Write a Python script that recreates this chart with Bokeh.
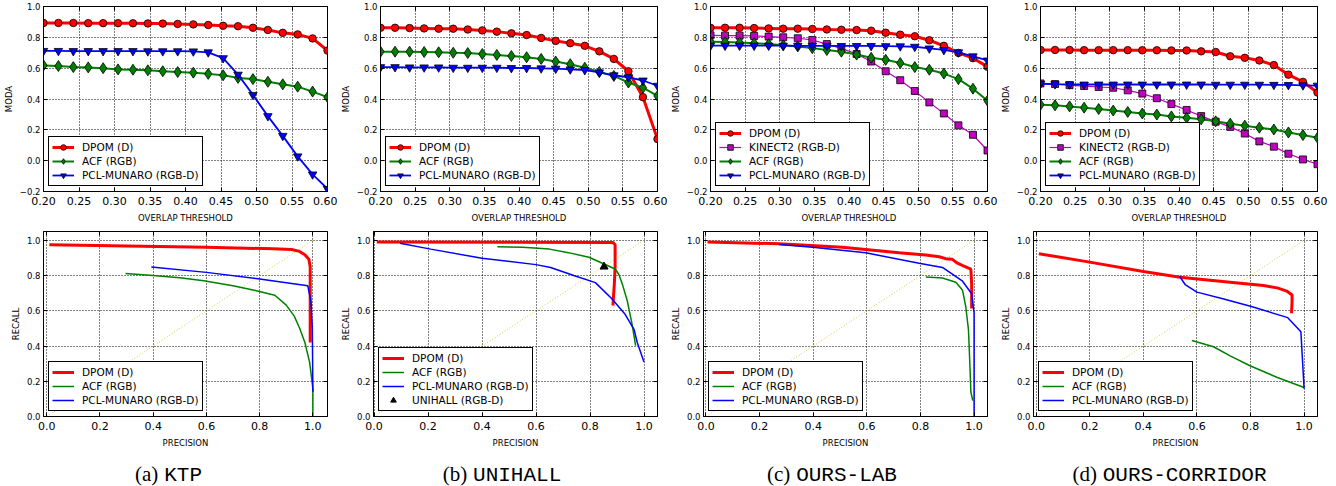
from bokeh.plotting import figure
from bokeh.models import Range1d, FixedTicker, CustomJSTickFormatter, Div, LinearAxis
from bokeh.layouts import column, row
from bokeh.embed import file_html
from bokeh.resources import INLINE

# ---------------- data ----------------
THRESH = [0.200, 0.221, 0.242, 0.263, 0.284, 0.305, 0.326, 0.347, 0.368, 0.389,
          0.411, 0.432, 0.453, 0.474, 0.495, 0.516, 0.537, 0.558, 0.579, 0.600]

KTP_DPOM = [0.893, 0.893, 0.893, 0.892, 0.892, 0.892, 0.891, 0.890, 0.889, 0.887,
            0.884, 0.880, 0.875, 0.872, 0.862, 0.848, 0.829, 0.819, 0.793, 0.714]
KTP_ACF = [0.618, 0.614, 0.607, 0.605, 0.600, 0.592, 0.590, 0.586, 0.580, 0.575,
           0.571, 0.563, 0.554, 0.537, 0.529, 0.512, 0.495, 0.480, 0.448, 0.412]
KTP_PCL = [0.712, 0.712, 0.711, 0.711, 0.711, 0.711, 0.711, 0.710, 0.710, 0.710,
           0.709, 0.703, 0.665, 0.558, 0.427, 0.289, 0.161, 0.028, -0.089, -0.183]

UNI_DPOM = [0.862, 0.862, 0.860, 0.858, 0.856, 0.856, 0.851, 0.845, 0.837, 0.826,
            0.815, 0.796, 0.777, 0.762, 0.745, 0.709, 0.660, 0.580, 0.412, 0.140]
UNI_ACF = [0.707, 0.707, 0.707, 0.705, 0.703, 0.700, 0.698, 0.692, 0.686, 0.679,
           0.671, 0.660, 0.643, 0.626, 0.603, 0.575, 0.550, 0.507, 0.473, 0.420]
UNI_PCL = [0.607, 0.607, 0.605, 0.605, 0.605, 0.603, 0.603, 0.603, 0.603, 0.601,
           0.601, 0.599, 0.597, 0.592, 0.588, 0.573, 0.554, 0.541, 0.520, 0.486]

LAB_DPOM = [0.862, 0.862, 0.862, 0.860, 0.858, 0.856, 0.856, 0.854, 0.851, 0.849,
            0.847, 0.843, 0.830, 0.817, 0.807, 0.781, 0.745, 0.699, 0.665, 0.609]
LAB_KIN = [0.813, 0.811, 0.811, 0.809, 0.805, 0.800, 0.794, 0.783, 0.756, 0.728,
           0.692, 0.643, 0.580, 0.522, 0.452, 0.378, 0.306, 0.229, 0.168, 0.066]
LAB_ACF = [0.771, 0.769, 0.766, 0.762, 0.756, 0.749, 0.741, 0.730, 0.718, 0.707,
           0.688, 0.667, 0.654, 0.633, 0.607, 0.590, 0.565, 0.529, 0.467, 0.389]
LAB_PCL = [0.746, 0.746, 0.746, 0.746, 0.746, 0.746, 0.745, 0.745, 0.745, 0.744,
           0.744, 0.744, 0.743, 0.742, 0.739, 0.728, 0.718, 0.703, 0.677, 0.650]

COR_DPOM = [0.718, 0.718, 0.718, 0.717, 0.717, 0.717, 0.717, 0.716, 0.716, 0.715,
            0.715, 0.709, 0.705, 0.677, 0.667, 0.650, 0.620, 0.558, 0.511, 0.442]
COR_KIN = [0.501, 0.497, 0.490, 0.484, 0.478, 0.473, 0.456, 0.435, 0.405, 0.367,
           0.329, 0.289, 0.253, 0.219, 0.176, 0.125, 0.091, 0.045, 0.008, -0.023]
COR_ACF = [0.363, 0.359, 0.352, 0.344, 0.335, 0.325, 0.316, 0.306, 0.299, 0.287,
           0.278, 0.268, 0.255, 0.240, 0.227, 0.214, 0.202, 0.183, 0.166, 0.149]
COR_PCL = [0.499, 0.496, 0.495, 0.494, 0.494, 0.494, 0.494, 0.494, 0.494, 0.494,
           0.494, 0.494, 0.493, 0.493, 0.493, 0.493, 0.492, 0.491, 0.489, 0.487]

# precision / recall curves
KTP_DPOM_P = [0.01, 0.30, 0.60, 0.85, 0.92, 0.95, 0.97, 0.985, 0.99, 0.99, 0.99]
KTP_DPOM_R = [0.975, 0.968, 0.960, 0.952, 0.948, 0.937, 0.918, 0.893, 0.85, 0.60, 0.42]
KTP_ACF_P = [0.296, 0.40, 0.50, 0.59, 0.70, 0.78, 0.857, 0.90, 0.93, 0.95, 0.97, 0.988, 1.0, 1.0]
KTP_ACF_R = [0.812, 0.800, 0.787, 0.771, 0.742, 0.716, 0.688, 0.632, 0.570, 0.502, 0.420, 0.307, 0.158, 0.0]
KTP_PCL_P = [0.393, 0.60, 0.80, 0.981, 0.993, 0.998, 1.0]
KTP_PCL_R = [0.849, 0.818, 0.781, 0.742, 0.650, 0.500, 0.140]

UNI_DPOM_P = [0.01, 0.50, 0.885, 0.893, 0.893, 0.890, 0.887, 0.885]
UNI_DPOM_R = [0.990, 0.989, 0.988, 0.975, 0.850, 0.750, 0.680, 0.630]
UNI_ACF_P = [0.457, 0.55, 0.65, 0.72, 0.796, 0.846, 0.893, 0.907, 0.92, 0.938, 0.955, 0.969]
UNI_ACF_R = [0.963, 0.960, 0.950, 0.930, 0.904, 0.870, 0.837, 0.806, 0.750, 0.657, 0.530, 0.402]
UNI_PCL_P = [0.096, 0.21, 0.40, 0.60, 0.654, 0.74, 0.82, 0.88, 0.93, 0.963, 0.975, 1.0]
UNI_PCL_R = [0.983, 0.950, 0.898, 0.862, 0.846, 0.800, 0.760, 0.670, 0.580, 0.495, 0.420, 0.309]
UNI_UNIHALL_P = [0.852]
UNI_UNIHALL_R = [0.850]

LAB_DPOM_P = [0.006, 0.273, 0.509, 0.72, 0.82, 0.87, 0.894, 0.919, 0.938, 0.96, 0.988, 0.991, 0.991]
LAB_DPOM_R = [0.991, 0.980, 0.961, 0.929, 0.916, 0.907, 0.896, 0.892, 0.870, 0.855, 0.836, 0.750, 0.613]
LAB_ACF_P = [0.82, 0.882, 0.932, 0.957, 0.969, 0.979, 0.984, 0.988, 0.995]
LAB_ACF_R = [0.792, 0.786, 0.762, 0.716, 0.623, 0.493, 0.307, 0.139, 0.090]
LAB_PCL_P = [0.273, 0.398, 0.596, 0.795, 0.882, 0.957, 0.991, 1.0, 1.0]
LAB_PCL_R = [0.976, 0.961, 0.929, 0.870, 0.846, 0.768, 0.697, 0.585, 0.0]

COR_DPOM_P = [0.01, 0.189, 0.40, 0.537, 0.724, 0.848, 0.90, 0.935, 0.955, 0.955, 0.953]
COR_DPOM_R = [0.924, 0.879, 0.823, 0.790, 0.762, 0.743, 0.730, 0.712, 0.690, 0.650, 0.586]
COR_ACF_P = [0.581, 0.662, 0.724, 0.798, 0.898, 1.0]
COR_ACF_R = [0.431, 0.396, 0.344, 0.288, 0.223, 0.165]
COR_PCL_P = [0.535, 0.556, 0.60, 0.70, 0.80, 0.939, 0.988, 1.0]
COR_PCL_R = [0.796, 0.749, 0.706, 0.667, 0.626, 0.561, 0.481, 0.158]

DIAG = [0.0, 1.0]

TOP_X_TICKS = [0.20, 0.25, 0.30, 0.35, 0.40, 0.45, 0.50, 0.55, 0.60]
TOP_Y_TICKS = [-0.2, 0.0, 0.2, 0.4, 0.6, 0.8, 1.0]
PR_TICKS = [0.0, 0.2, 0.4, 0.6, 0.8, 1.0]

LETTERS = ["(a)", "(b)", "(c)", "(d)"]
DATASETS = ["KTP", "UNIHALL", "OURS-LAB", "OURS-CORRIDOR"]

# ---------------- styles / layout ----------------
STY = {
    "DPOM (D)": dict(color="#ff0000", marker="circle", lw=3, size=7.5),
    "KINECT2 (RGB-D)": dict(color="#bf00bf", marker="square", lw=1.2, size=7),
    "ACF (RGB)": dict(color="#008000", marker="diamond", lw=2, size=11),
    "PCL-MUNARO (RGB-D)": dict(color="#0000ff", marker="inverted_triangle", lw=1.8, size=8.5),
}
FONT = "DejaVu Sans"
FRAME_W = 284
FRAME_H = 189
LEFT_BORDERS = [43, 36, 36, 36]
RIGHT_BORDER = 10
TOP_BORDER = 6
BOTTOM_BORDER = 30
CAP_PAD = [0, 0, 0, 15]

blank = CustomJSTickFormatter(code="return ''")
minus_fmt = CustomJSTickFormatter(code="return tick < -1e-9 ? '\\u2212' + Math.abs(tick).toFixed(1) : Math.abs(tick).toFixed(1);")
fmt2 = CustomJSTickFormatter(code="return tick.toFixed(2);")
fmt1 = CustomJSTickFormatter(code="return tick.toFixed(1);")


def new_fig(i, xr, yr, xl, yl):
    lb = LEFT_BORDERS[i]
    return figure(width=lb + FRAME_W + RIGHT_BORDER, height=TOP_BORDER + FRAME_H + BOTTOM_BORDER,
                  min_border_left=lb, min_border_right=RIGHT_BORDER,
                  min_border_top=TOP_BORDER, min_border_bottom=BOTTOM_BORDER,
                  x_range=Range1d(*xr), y_range=Range1d(*yr),
                  x_axis_label=xl, y_axis_label=yl,
                  output_backend="svg", toolbar_location=None)


def style(p, xt, yt, xfmt, yfmt):
    p.xaxis.ticker = FixedTicker(ticks=xt)
    p.yaxis.ticker = FixedTicker(ticks=yt)
    p.xaxis.formatter = xfmt
    p.yaxis.formatter = yfmt
    p.outline_line_color = "black"
    p.outline_line_alpha = 1
    p.outline_line_width = 1
    p.add_layout(LinearAxis(ticker=FixedTicker(ticks=xt), formatter=blank,
                            major_label_text_font_size="0px", major_label_standoff=0,
                            axis_line_color=None, major_tick_in=4, major_tick_out=0,
                            minor_tick_line_color=None), "above")
    p.add_layout(LinearAxis(ticker=FixedTicker(ticks=yt), formatter=blank,
                            major_label_text_font_size="0px", major_label_standoff=0,
                            axis_line_color=None, major_tick_in=4, major_tick_out=0,
                            minor_tick_line_color=None), "right")
    for ax in p.axis:
        ax.major_tick_in = 4
        ax.major_tick_out = 0
        ax.minor_tick_line_color = None
        ax.major_label_text_font = FONT
        ax.major_label_text_color = "black"
        ax.axis_label_text_font = FONT
        ax.axis_label_text_font_size = "8.5px"
        ax.axis_label_text_font_style = "normal"
        ax.axis_label_text_color = "black"
    for ax in (p.xaxis[0], p.yaxis[0]):
        ax.major_label_text_font_size = "8.5px"
        ax.major_label_standoff = 3
        ax.axis_line_color = "black"
    p.xaxis[0].axis_label_standoff = 4
    p.yaxis[0].axis_label_standoff = 3
    p.xgrid.ticker = FixedTicker(ticks=xt)
    p.ygrid.ticker = FixedTicker(ticks=yt)
    p.grid.grid_line_color = "black"
    p.grid.grid_line_alpha = 1
    p.grid.grid_line_dash = "1 2"
    p.grid.grid_line_width = 1


def legend_style(p):
    lg = p.legend[0]
    lg.location = "bottom_left"
    lg.margin = 5
    lg.padding = 3
    lg.spacing = 0
    lg.label_height = 14
    lg.glyph_height = 14
    lg.glyph_width = 22
    lg.label_standoff = 8
    lg.label_text_font = FONT
    lg.label_text_font_size = "10.5px"
    lg.label_text_color = "black"
    lg.border_line_color = "black"
    lg.border_line_width = 1
    lg.border_line_alpha = 1
    lg.background_fill_alpha = 1


def top_fig(i, series):
    p = new_fig(i, (0.2, 0.6), (-0.2, 1.0), "OVERLAP THRESHOLD", "MODA")
    style(p, TOP_X_TICKS, TOP_Y_TICKS, fmt2, minus_fmt)
    for name, vals in series:
        s = STY[name]
        p.line(THRESH, vals, line_color=s["color"], line_width=s["lw"], legend_label=name)
        p.scatter(THRESH, vals, marker=s["marker"], size=s["size"],
                  fill_color=s["color"], line_color="black",
                  line_width=0.8, legend_label=name)
    legend_style(p)
    return p


def pr_fig(i, series, xr, extra=None):
    p = new_fig(i, xr, (0.0, 1.05), "PRECISION", "RECALL")
    style(p, PR_TICKS, PR_TICKS, fmt1, fmt1)
    p.line(DIAG, DIAG, line_color="#c4c400", line_width=1, line_dash="1 2", line_alpha=0.8)
    for name, px, ry in series:
        s = STY[name]
        lw = 3 if name.startswith("DPOM") else 1.5
        p.line(px, ry, line_color=s["color"], line_width=lw, legend_label=name)
    if extra is not None:
        name, px, ry = extra
        p.scatter(px, ry, marker="triangle", size=8, fill_color="black", line_color="black",
                  legend_label=name)
    legend_style(p)
    return p


tops = [
    top_fig(0, [("DPOM (D)", KTP_DPOM), ("ACF (RGB)", KTP_ACF), ("PCL-MUNARO (RGB-D)", KTP_PCL)]),
    top_fig(1, [("DPOM (D)", UNI_DPOM), ("ACF (RGB)", UNI_ACF), ("PCL-MUNARO (RGB-D)", UNI_PCL)]),
    top_fig(2, [("DPOM (D)", LAB_DPOM), ("KINECT2 (RGB-D)", LAB_KIN), ("ACF (RGB)", LAB_ACF),
                ("PCL-MUNARO (RGB-D)", LAB_PCL)]),
    top_fig(3, [("DPOM (D)", COR_DPOM), ("KINECT2 (RGB-D)", COR_KIN), ("ACF (RGB)", COR_ACF),
                ("PCL-MUNARO (RGB-D)", COR_PCL)]),
]

bottoms = [
    pr_fig(0, [("DPOM (D)", KTP_DPOM_P, KTP_DPOM_R), ("ACF (RGB)", KTP_ACF_P, KTP_ACF_R),
               ("PCL-MUNARO (RGB-D)", KTP_PCL_P, KTP_PCL_R)], (-0.012, 1.055)),
    pr_fig(1, [("DPOM (D)", UNI_DPOM_P, UNI_DPOM_R), ("ACF (RGB)", UNI_ACF_P, UNI_ACF_R),
               ("PCL-MUNARO (RGB-D)", UNI_PCL_P, UNI_PCL_R)], (-0.002, 1.05),
           extra=("UNIHALL (RGB-D)", UNI_UNIHALL_P, UNI_UNIHALL_R)),
    pr_fig(2, [("DPOM (D)", LAB_DPOM_P, LAB_DPOM_R), ("ACF (RGB)", LAB_ACF_P, LAB_ACF_R),
               ("PCL-MUNARO (RGB-D)", LAB_PCL_P, LAB_PCL_R)], (-0.009, 1.05)),
    pr_fig(3, [("DPOM (D)", COR_DPOM_P, COR_DPOM_R), ("ACF (RGB)", COR_ACF_P, COR_ACF_R),
               ("PCL-MUNARO (RGB-D)", COR_PCL_P, COR_PCL_R)], (-0.01, 1.05)),
]

caps = []
for i, (letter, name) in enumerate(zip(LETTERS, DATASETS)):
    w = LEFT_BORDERS[i] + FRAME_W + RIGHT_BORDER
    html = ('<div style="width:%dpx;padding-left:%dpx;box-sizing:border-box;text-align:center;'
            'padding-top:13px;line-height:22px;font-size:21px;color:black;white-space:nowrap">'
            '<span style="font-family:\'Liberation Serif\',\'Times New Roman\',serif">%s</span> '
            '<span style="font-family:\'Liberation Mono\',\'Courier New\',\'Nimbus Mono PS\',monospace">%s</span></div>'
            ) % (w, CAP_PAD[i], letter, name)
    caps.append(Div(text=html, width=w, height=36, margin=(0, 0, 0, 0)))

layout = column(row(*tops), row(*bottoms), row(*caps))

open("out.html", "w").write(file_html(layout, INLINE))
